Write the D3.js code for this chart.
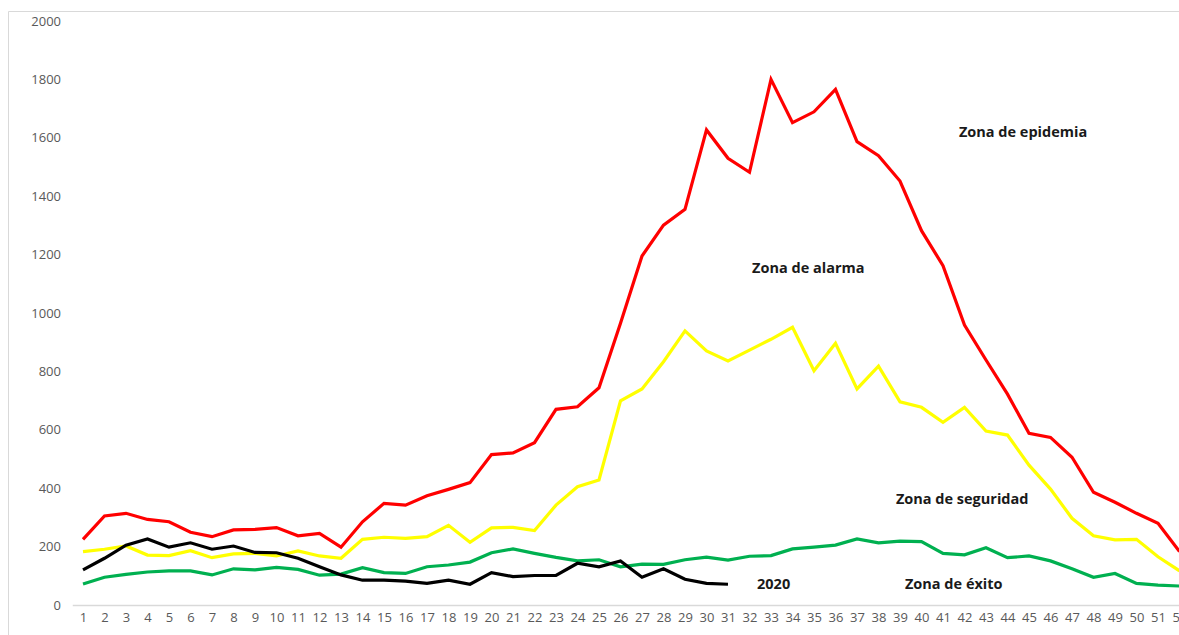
<!DOCTYPE html>
<html><head><meta charset="utf-8">
<script src="https://cdn.jsdelivr.net/npm/d3@7"></script>
<style>html,body{margin:0;padding:0;background:#fff;overflow:hidden}</style>
</head><body>
<svg id="c" width="1179" height="635"></svg>
<script>
const weeks = d3.range(1, 53);
const yTicks = [0,200,400,600,800,1000,1200,1400,1600,1800,2000];
const epidemia = [225,305,314,293,285,249,234,257,259,265,237,245,198,285,348,342,374,396,419,515,521,556,670,679,744,965,1195,1301,1355,1627,1530,1482,1800,1652,1689,1766,1587,1539,1452,1282,1162,959,839,722,588,574,506,386,352,314,280,183];
const alarma = [183,191,202,171,169,186,162,175,177,168,185,168,160,225,232,228,234,273,215,264,266,255,342,405,428,699,740,833,939,870,836,873,910,951,802,896,740,818,696,677,626,677,596,582,479,397,297,237,223,225,165,117];
const seguridad = [72,95,105,113,117,117,103,124,120,129,122,102,106,128,111,108,131,137,147,179,192,177,163,151,155,131,140,139,155,164,154,167,169,192,198,205,226,213,219,217,177,172,196,162,168,151,124,95,108,74,68,65];
const y2020 = [120,160,205,226,198,213,191,202,180,179,160,131,103,85,85,82,74,85,71,111,97,101,101,143,131,151,95,124,88,74,71];
const zoneLabels = [
  {text:"Zona de epidemia", week:41.74, value:1604},
  {text:"Zona de alarma", week:32.12, value:1138},
  {text:"Zona de seguridad", week:38.81, value:346},
  {text:"Zona de éxito", week:39.23, value:55},
  {text:"2020", week:32.35, value:55}
];

const svg = d3.select("#c");
const x = d3.scalePoint().domain(weeks).range([72.25, 1190.25]).padding(0.5);
const xc = d3.scaleLinear().domain([1,52]).range([x(1), x(52)]);
const y = d3.scaleLinear().domain([0,2000]).range([605, 21]);

// border
svg.append("path").attr("d","M8.5,635 V11.5 H1179").attr("fill","none").attr("stroke","#d9d9d9").attr("stroke-width",1);

// y axis labels
const yAxis = d3.axisLeft(y).tickValues(yTicks).tickSize(0).tickPadding(0).tickFormat(d3.format("d"));
const ga = svg.append("g").attr("transform","translate(61,0)").call(yAxis);
ga.select(".domain").remove();
ga.selectAll("text").attr("font-family","'Open Sans', sans-serif").attr("font-size","13px").attr("fill","#595959");

// x axis
const xAxis = d3.axisBottom(x).tickSize(0).tickPadding(8);
const gx = svg.append("g").attr("transform","translate(0,605)").call(xAxis);
gx.select(".domain").attr("stroke","#d9d9d9").attr("stroke-width",1.5);
gx.selectAll("text").attr("font-family","'Open Sans', sans-serif").attr("font-size","13px").attr("fill","#595959");

const line = d3.line().x((d,i)=>x(weeks[i])).y(d=>y(d));
const series = [
  {data:seguridad, color:"#00b050"},
  {data:alarma, color:"#ffff00"},
  {data:epidemia, color:"#ff0000"},
  {data:y2020, color:"#000000"}
];
svg.selectAll("path.s").data(series).enter().append("path")
  .attr("class","s").attr("d",d=>line(d.data)).attr("fill","none")
  .attr("stroke",d=>d.color).attr("stroke-width",3.2).attr("stroke-linejoin","miter").attr("stroke-linecap","butt");

svg.selectAll("text.z").data(zoneLabels).enter().append("text")
  .attr("class","z").attr("x",d=>xc(d.week)).attr("y",d=>y(d.value))
  .attr("font-family","'Open Sans', sans-serif").attr("font-weight","bold").attr("font-size","14.5px")
  .attr("fill","#1a1a1a").text(d=>d.text);
</script>
</body></html>
